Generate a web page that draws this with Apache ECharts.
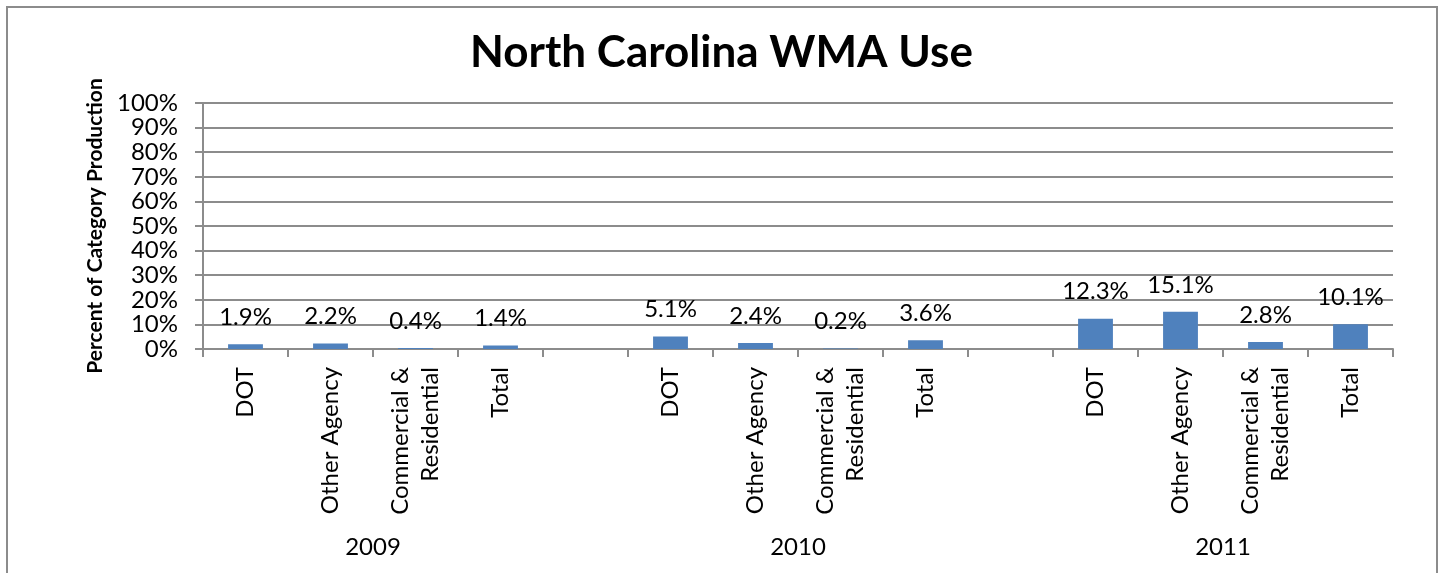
<!DOCTYPE html>
<html>
<head>
<meta charset="utf-8">
<script src="https://cdn.jsdelivr.net/npm/echarts@6/dist/echarts.min.js"></script>
<style>
	html, body { margin: 0; padding: 0; background: #fff; }
	#chart { width: 1443px; height: 573px; }
</style>
</head>
<body>
<div id="chart"></div>
<script>
// categories ('' = gap between years)
var categories = ['DOT', 'Other Agency', 'Commercial &\nResidential', 'Total', '',
	'DOT', 'Other Agency', 'Commercial &\nResidential', 'Total', '',
	'DOT', 'Other Agency', 'Commercial &\nResidential', 'Total'];
var values = [1.9, 2.2, 0.4, 1.4, null, 5.1, 2.4, 0.2, 3.6, null, 12.3, 15.1, 2.8, 10.1];
var years = ['2009', '2010', '2011'];
var yTicks = [0, 10, 20, 30, 40, 50, 60, 70, 80, 90, 100];

// centre of each year group, in category units
var yearPos = {};
var start = 0, g = 0;
for (var i = 0; i <= categories.length; i++) {
	if (i === categories.length || categories[i] === '') {
		yearPos[(start + i) / 2] = years[g++];
		start = i + 1;
	}
}

var font = 'Lato';
var grey = '#8c8c8c';

var myChart = echarts.init(document.getElementById('chart'));
var option = {
	animation: false,
	title: {
		text: 'North Carolina WMA Use',
		left: 'center',
		top: 26,
		textStyle: {
			fontFamily: font,
			fontSize: 44,
			fontWeight: 'bold',
			color: '#000'
		}
	},
	graphic: [{
		type: 'rect',
		shape: { x: 7, y: 7, width: 1430, height: 600 },
		style: { fill: 'none', stroke: grey, lineWidth: 2 },
		silent: true
	}],
	grid: {
		left: 203,
		right: 50,
		top: 103,
		bottom: 224
	},
	xAxis: [{
		type: 'category',
		data: categories,
		axisLine: { lineStyle: { color: grey, width: 2 } },
		axisTick: { show: true, length: 8, interval: 0, lineStyle: { color: grey, width: 2 } },
		axisLabel: {
			interval: 0,
			rotate: 90,
			margin: 18,
			fontFamily: font,
			fontSize: 24,
			lineHeight: 30,
			color: '#000'
		}
	}, {
		type: 'value',
		position: 'bottom',
		min: 0,
		max: categories.length,
		interval: 0.5,
		axisLine: { show: false },
		axisTick: { show: false },
		splitLine: { show: false },
		axisLabel: {
			margin: 186,
			fontFamily: font,
			fontSize: 24,
			color: '#000',
			showMinLabel: true,
			showMaxLabel: true,
			formatter: function (v) { return yearPos[v] || ''; }
		}
	}],
	yAxis: {
		type: 'value',
		min: yTicks[0],
		max: yTicks[yTicks.length - 1],
		interval: 10,
		name: 'Percent of Category Production',
		nameLocation: 'middle',
		nameGap: 95,
		nameTextStyle: {
			fontFamily: font,
			fontSize: 21,
			fontWeight: 'bold',
			color: '#000'
		},
		axisLine: { show: true, lineStyle: { color: grey, width: 2 } },
		axisTick: { show: true, length: 8, lineStyle: { color: grey, width: 2 } },
		splitLine: { show: true, lineStyle: { color: grey, width: 2 } },
		axisLabel: {
			margin: 25,
			fontFamily: font,
			fontSize: 24,
			color: '#000',
			formatter: '{value}%'
		}
	},
	series: [{
		type: 'bar',
		data: values,
		barWidth: '41%',
		itemStyle: { color: '#4f81bd' },
		label: {
			show: true,
			position: 'top',
			distance: 15,
			fontFamily: font,
			fontSize: 24,
			color: '#000',
			formatter: function (p) { return p.value.toFixed(1) + '%'; }
		}
	}]
};
myChart.setOption(option);
</script>
</body>
</html>
